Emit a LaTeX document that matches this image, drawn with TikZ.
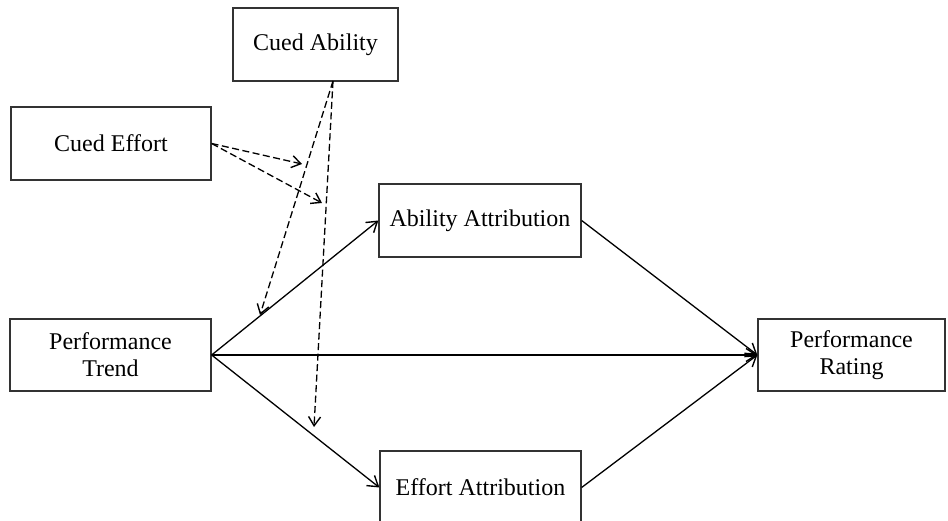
\documentclass[tikz,border=0pt]{standalone}
\usepackage{fontspec}
\setmainfont{Liberation Serif}
\usetikzlibrary{arrows.meta}
\begin{document}
\begin{tikzpicture}[x=1pt,y=1pt,
  box/.style={draw=black!80,line width=1.3pt,fill=white,inner sep=0pt,align=center,
    font=\fontsize{24}{27}\selectfont},
  solidarrow/.style={line width=1.3pt,-{Straight Barb[length=10pt,width=13pt,line width=1.4pt]}},
  dasharrow/.style={line width=1.3pt,dash pattern=on 7pt off 3.5pt,-{Straight Barb[length=9pt,width=12pt,line width=1.4pt]}}]
\useasboundingbox (0,0) rectangle (948,520);
% nodes (y = 520 - image y)
\node[box,minimum width=165pt,minimum height=73pt] (ca) at (315.5,475.5) {Cued Ability};
\node[box,minimum width=200pt,minimum height=73pt] (ce) at (111,376.5) {Cued Effort};
\node[box,minimum width=202pt,minimum height=73pt] (aa) at (480,299.5) {Ability Attribution};
\node[box,minimum width=201pt,minimum height=72pt] (pt) at (110.5,165) {Performance\\Trend};
\node[box,minimum width=187pt,minimum height=72pt] (pr) at (851.5,165) {Performance\\Rating};
\node[box,minimum width=201pt,minimum height=73pt] (ea) at (480.5,32.5) {Effort Attribution};
% solid paths
\draw[solidarrow] (pt.east) -- (aa.west);
\draw[solidarrow] (pt.east) -- (ea.west);
\draw[solidarrow] (pt.east) -- (pr.west);
\draw[solidarrow] (aa.east) -- (pr.west);
\draw[solidarrow] (ea.east) -- (pr.west);
% dashed moderator paths
\coordinate (cas) at (333,439);
\coordinate (t1) at (260,205);
\coordinate (t2) at (314,93);
\coordinate (e1) at (302,356);
\coordinate (e2) at (322,317);
\draw[dasharrow] (cas) -- (t1);
\draw[dasharrow] (cas) -- (t2);
\draw[dasharrow] (ce.east) -- (e1);
\draw[dasharrow] (ce.east) -- (e2);
\end{tikzpicture}
\end{document}
